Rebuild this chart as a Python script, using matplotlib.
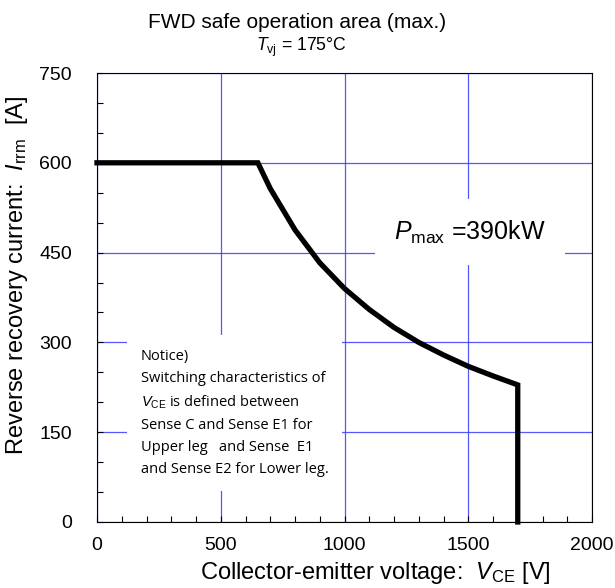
import numpy as np
import matplotlib
matplotlib.use("Agg")
import matplotlib.pyplot as plt
from matplotlib.ticker import MultipleLocator

plt.rcParams['font.family'] = ['Liberation Sans', 'DejaVu Sans']
plt.rcParams['mathtext.fontset'] = 'custom'
plt.rcParams['mathtext.rm'] = 'Liberation Sans'
plt.rcParams['mathtext.it'] = 'Liberation Sans:italic'

# RBSOA boundary (V, A)
vce = [0, 650, 700, 800, 900, 1000, 1100, 1200, 1300, 1400, 1500, 1600, 1700, 1700]
irrm = [600, 600, 557, 488, 433, 390, 355, 325, 300, 279, 260, 244, 229, 0]

x_ticks = [0, 500, 1000, 1500, 2000]
y_ticks = [0, 150, 300, 450, 600, 750]

notice = ("Notice)\n"
          "Switching characteristics of\n"
          "$V_{\\rm CE}$ is defined between\n"
          "Sense C and Sense E1 for\n"
          "Upper leg   and Sense  E1\n"
          "and Sense E2 for Lower leg.")

W, H = 615, 588
fig = plt.figure(figsize=(W / 100, H / 100), dpi=100)
ax = fig.add_axes([97/W, 66/H, 495/W, 449/H])

ax.set_xlim(0, 2000)
ax.set_ylim(0, 750)
ax.set_xticks(x_ticks)
ax.set_yticks(y_ticks)
ax.xaxis.set_minor_locator(MultipleLocator(100))
ax.yaxis.set_minor_locator(MultipleLocator(50))
ax.tick_params(which='both', direction='in', length=4, width=0.8, labelsize=14)
ax.tick_params(axis='x', which='both', pad=11)
ax.tick_params(axis='y', which='both', pad=18)
ax.grid(True, which='major', color='#3a3aff', linewidth=0.9, alpha=0.85)
ax.set_axisbelow(True)

ax.plot(vce, irrm, color='black', linewidth=3.8, solid_joinstyle='miter', zorder=5, clip_on=False)

ax.text(1507, 484, "$\\mathit{P}_{\\rm max}$ =390kW", fontsize=18, ha='center', va='center',
        bbox=dict(facecolor='white', edgecolor='none', pad=14), zorder=4)

ax.text(176, 182, notice, fontsize=10.5, family=['Open Sans', 'DejaVu Sans'], ha='left', va='center',
        linespacing=1.63, bbox=dict(facecolor='white', edgecolor='none', pad=10), zorder=4)

fig.text(375/W, 1 - 573/H, "Collector-emitter voltage:  $\\mathit{V}_{\\rm CE}$ [V]", fontsize=17,
         ha='center', va='center')
fig.text(17/W, 1 - 275/H, "Reverse recovery current:  $\\mathit{I}_{\\rm rrm}$  [A]", fontsize=17,
         ha='center', va='center', rotation=90)
fig.text(297/W, 1 - 22/H, "FWD safe operation area (max.)", fontsize=15, ha='center', va='center')
fig.text(301/W, 1 - 47/H, "$\\mathit{T}_{\\rm vj}$ = 175°C", fontsize=12.7, ha='center', va='center')

fig.savefig("out.png", dpi=100)
